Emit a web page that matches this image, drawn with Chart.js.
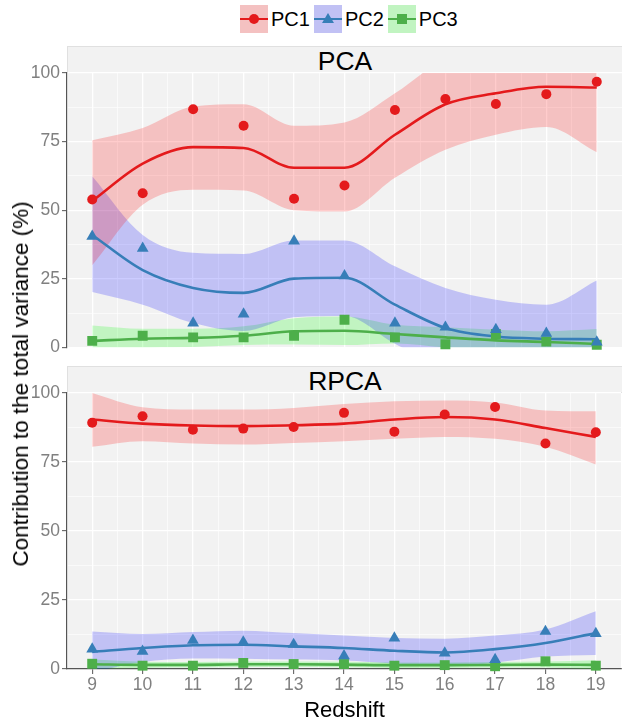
<!DOCTYPE html>
<html>
<head>
<meta charset="utf-8">
<script src="https://cdn.jsdelivr.net/npm/chart.js@4.4.1/dist/chart.umd.min.js"></script>
<style>
body{margin:0;width:622px;height:719px;background:#fff;position:relative;overflow:hidden;font-family:"Liberation Sans",Arial,sans-serif;}
canvas{position:absolute;left:0;}
#pca{top:40px;}
#rpca{top:360px;}
.strip{position:absolute;left:67px;width:555px;height:27px;background:#f2f2f2;border:1px solid #e0e0e0;border-right:none;box-sizing:border-box;text-align:center;font-size:26.5px;line-height:29px;color:#000;}
#legend{position:absolute;top:5px;left:240px;display:flex;align-items:center;font-size:20px;height:28px;}
.key{position:relative;width:28px;height:28px;background:#f2f2f2;display:inline-block;}
.key .fill{position:absolute;left:0;top:0;width:28px;height:28px;}
.key .ln{position:absolute;left:0;top:12.7px;width:28px;height:2.6px;}
.key .mk{position:absolute;}
.lab{margin:0 4px 0 3px;}
#ylab{position:absolute;left:21px;top:384px;transform:translate(-50%,-50%) rotate(-90deg);white-space:nowrap;font-size:22.5px;}
#xlab{position:absolute;left:0;width:689px;top:697px;line-height:26px;text-align:center;font-size:22px;}
</style>
</head>
<body>
<div id="legend"></div>
<div class="strip" style="top:46px">PCA</div>
<canvas id="pca" width="622" height="320"></canvas>
<div class="strip" style="top:366px">RPCA</div>
<canvas id="rpca" width="622" height="359"></canvas>
<div id="ylab">Contribution to the total variance (%)</div>
<div id="xlab">Redshift</div>
<script>
// redshift values on the x axis
const redshift = [9,10,11,12,13,14,15,16,17,18,19];
const yTicks = [0,25,50,75,100];
const seriesNames = ["PC1","PC2","PC3"];

// PCA panel: points, smooth fit and its band
const pcaPC1 = [53.9,56.2,86.8,80.8,54.2,59.0,86.5,90.5,88.7,92.3,96.8];
const pcaPC1Fit = [53.4,67.0,73.0,72.7,65.5,65.5,77.5,88.6,92.6,95.0,94.7];
const pcaPC1Hi = [75.5,80.0,87.8,88.6,80.8,82.0,92.6,105.0,107.7,109.7,118.3];
const pcaPC1Lo = [30.0,52.0,57.5,57.2,50.0,49.5,61.8,72.0,77.5,80.3,71.1];

const pcaPC2 = [40.5,36.1,8.9,12.2,38.8,26.1,8.9,7.4,6.5,5.2,2.0];
const pcaPC2Fit = [41.0,28.2,21.7,19.9,25.1,25.4,15.6,7.1,4.0,3.2,3.0];
const pcaPC2Hi = [62.4,41.0,34.5,34.1,39.0,39.0,29.6,21.7,17.4,15.6,24.4];
const pcaPC2Lo = [20.2,15.6,8.9,6.0,11.0,11.5,1.4,-7.5,-9.4,-9.2,-18.4];

const pcaPC3 = [2.4,4.3,3.7,3.7,4.3,10.1,3.7,1.2,4.9,2.2,1.0];
const pcaPC3Fit = [2.4,3.2,3.5,4.3,5.9,6.1,4.9,3.7,2.6,2.0,1.3];
const pcaPC3Hi = [8.0,6.8,6.8,7.7,10.7,11.3,8.3,7.4,6.5,5.9,6.7];
const pcaPC3Lo = [-3.2,-0.4,0.2,0.9,1.1,0.9,1.5,0.0,-1.3,-1.9,-4.1];

// RPCA panel
const rpcaPC1 = [89.2,91.6,86.7,87.1,87.7,92.8,86.0,92.2,94.9,81.7,85.8];
const rpcaPC1Fit = [90.4,88.9,88.2,88.0,88.3,88.9,90.4,91.3,90.4,87.3,84.1];
const rpcaPC1Hi = [100.0,94.8,94.0,94.0,94.6,96.0,97.0,97.3,96.6,93.7,93.4];
const rpcaPC1Lo = [80.5,82.5,81.7,81.3,81.9,82.5,83.4,84.1,83.4,80.5,74.1];

const rpcaPC2 = [7.2,6.4,10.4,9.8,8.9,4.8,11.2,5.8,3.4,13.6,12.8];
const rpcaPC2Fit = [6.2,7.6,8.6,8.8,8.2,7.6,6.6,6.0,7.2,9.4,13.0];
const rpcaPC2Hi = [13.6,12.7,13.4,13.9,13.0,12.1,11.2,11.0,12.1,14.3,20.9];
const rpcaPC2Lo = [-1.2,2.5,3.8,3.7,3.4,3.1,2.0,1.0,2.3,4.5,5.1];

const rpcaPC3 = [1.9,1.2,1.2,2.2,1.8,1.8,1.2,1.4,1.0,2.8,1.2];
const rpcaPC3Fit = [1.7,1.5,1.5,1.7,1.7,1.6,1.4,1.4,1.5,1.6,1.5];
const rpcaPC3Hi = [3.4,2.6,2.5,2.7,2.7,2.6,2.4,2.4,2.5,2.7,3.2];
const rpcaPC3Lo = [0.0,0.4,0.5,0.7,0.7,0.6,0.4,0.4,0.5,0.5,-0.2];

const lineColors = ["#E41A1C","#377EB8","#4DAF4A"];
const bandColors = ["rgba(255,0,0,0.2)","rgba(0,0,255,0.2)","rgba(0,255,0,0.2)"];
const shapes = ["circle","triangle","rect"];
const shapeRadius = [5,6.8,7];

Chart.defaults.font.family = '"Liberation Sans", Arial, sans-serif';

function xy(vals){
  return redshift.map((x,i)=>({x:x,y:vals[i]}));
}

// legend (html)
let legend = document.getElementById('legend');
seriesNames.forEach((n,i)=>{
  let mk;
  if(shapes[i]=='circle') mk = `<i class="mk" style="left:9px;top:9px;width:10px;height:10px;border-radius:50%;background:${lineColors[i]}"></i>`;
  else if(shapes[i]=='triangle') mk = `<i class="mk" style="left:8px;top:8px;width:0;height:0;border-left:6px solid transparent;border-right:6px solid transparent;border-bottom:10px solid ${lineColors[i]}"></i>`;
  else mk = `<i class="mk" style="left:9px;top:9px;width:10px;height:10px;background:${lineColors[i]}"></i>`;
  legend.innerHTML += `<span class="key"><i class="fill" style="background:${bandColors[i]}"></i><i class="ln" style="background:${lineColors[i]}"></i>${mk}</span><span class="lab">${n}</span>`;
});

const panelBg = {
  id:'panelBg',
  beforeDraw(chart){
    const a = chart.chartArea, c = chart.ctx;
    c.save(); c.fillStyle = '#f2f2f2';
    c.fillRect(a.left, a.top, a.right-a.left, a.bottom-a.top);
    c.restore();
  }
};

function makePanel(id, pts, fits, his, los, showX){
  let datasets = [];
  for(let i=0;i<3;i++){
    datasets.push({data:xy(pts[i]), showLine:false, pointStyle:shapes[i], pointRadius:shapeRadius[i],
      backgroundColor:lineColors[i], borderWidth:0, order:0, clip:8});
  }
  for(let i=0;i<3;i++){
    datasets.push({data:xy(fits[i]), showLine:true, pointRadius:0, borderColor:lineColors[i], borderWidth:2.6,
      cubicInterpolationMode:'monotone', fill:false, order:1});
  }
  for(let i=0;i<3;i++){
    // band: upper fills down to the lower one right after it
    datasets.push({data:xy(his[i]), showLine:true, pointRadius:0, borderWidth:0, borderColor:'transparent',
      cubicInterpolationMode:'monotone', fill:'+1', backgroundColor:bandColors[i], order:2});
    datasets.push({data:xy(los[i]), showLine:true, pointRadius:0, borderWidth:0, borderColor:'transparent',
      cubicInterpolationMode:'monotone', fill:false, order:2});
  }
  return new Chart(document.getElementById(id),{
    type:'scatter',
    data:{datasets},
    plugins:[panelBg],
    options:{
      responsive:false, animation:false,
      layout:{autoPadding:false,padding:{top:33,bottom:showX?0:11,left:0,right:0}},
      plugins:{legend:{display:false},tooltip:{enabled:false}},
      scales:{
        x:{type:'linear',min:8.5,max:19.5,
          afterFit:s=>{s.height = showX?50:0;},
          afterBuildTicks:s=>{
            let t=[]; for(let v=8.5; v<=19.5; v+=0.5) t.push({value:v});
            s.ticks=t;
          },
          ticks:{display:showX,autoSkip:false,maxRotation:0,padding:1,color:'#808080',font:{size:17.5},
            callback:v=>redshift.includes(v)?String(v):''},
          grid:{color:'#ffffff',lineWidth:c=>Number.isInteger(c.tick.value)?1.3:0.6,
            drawTicks:showX,tickLength:5,tickWidth:1,
            tickColor:c=>Number.isInteger(c.tick.value)?'#555':'rgba(0,0,0,0)'},
          border:{display:showX,color:'#555',width:1.2}
        },
        y:{min:0,max:100,
          afterFit:s=>{s.width=67;},
          afterBuildTicks:s=>{
            let t=[]; for(let v=0; v<=100; v+=12.5) t.push({value:v});
            s.ticks=t;
          },
          ticks:{autoSkip:false,padding:2,color:'#808080',font:{size:17.5},
            callback:v=>yTicks.includes(v)?String(v):''},
          grid:{color:'#ffffff',lineWidth:c=>yTicks.includes(c.tick.value)?1.3:0.6,
            tickLength:5,tickWidth:1,
            tickColor:c=>yTicks.includes(c.tick.value)?'#555':'rgba(0,0,0,0)'},
          border:{display:true,color:'#555',width:1.2}
        }
      }
    }
  });
}

makePanel('pca',[pcaPC1,pcaPC2,pcaPC3],[pcaPC1Fit,pcaPC2Fit,pcaPC3Fit],
  [pcaPC1Hi,pcaPC2Hi,pcaPC3Hi],[pcaPC1Lo,pcaPC2Lo,pcaPC3Lo],false);
makePanel('rpca',[rpcaPC1,rpcaPC2,rpcaPC3],[rpcaPC1Fit,rpcaPC2Fit,rpcaPC3Fit],
  [rpcaPC1Hi,rpcaPC2Hi,rpcaPC3Hi],[rpcaPC1Lo,rpcaPC2Lo,rpcaPC3Lo],true);
</script>
</body>
</html>
